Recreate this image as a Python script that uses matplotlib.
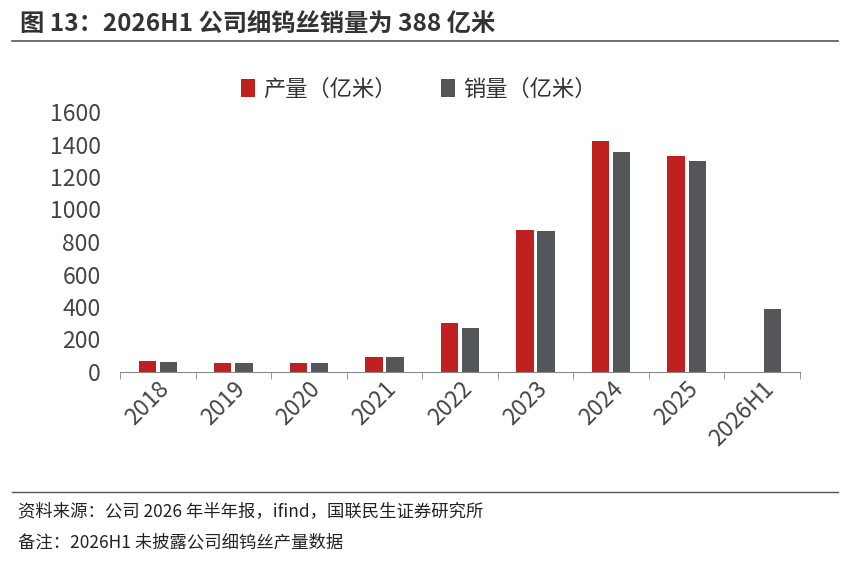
import matplotlib
matplotlib.use("Agg")
import matplotlib.pyplot as plt
import numpy as np

plt.rcParams['font.family'] = ['Noto Sans CJK SC', 'DejaVu Sans']

categories = ['2018', '2019', '2020', '2021', '2022', '2023', '2024', '2025', '2026H1']
production = [65, 55, 55, 95, 301, 872, 1421, 1329, np.nan]
sales = [63, 55, 55, 95, 271, 866, 1354, 1296, 388]
yticks = [0, 200, 400, 600, 800, 1000, 1200, 1400, 1600]

W, H = 852, 562
fig = plt.figure(figsize=(W/100, H/100), dpi=100)

fig.text(20/W, 1-24/H, '图 13：2026H1 公司细钨丝销量为 388 亿米', fontsize=17.5, fontweight='bold',
         color='#333333', va='center', ha='left')
fig.add_artist(plt.Line2D([12/W, 838/W], [1-41/H, 1-41/H], color='#555555', lw=1.2))
fig.add_artist(plt.Line2D([12/W, 838/W], [1-492/H, 1-492/H], color='#555555', lw=1.0))
fig.text(18/W, 1-511/H, '资料来源：公司 2026 年半年报，ifind，国联民生证券研究所', fontsize=12.5, color='#222222', va='center')
fig.text(18/W, 1-542/H, '备注：2026H1 未披露公司细钨丝产量数据', fontsize=12.5, color='#222222', va='center')

ax = fig.add_axes([120/W, 1-372/H, (800-120)/W, (372-112)/H])
x = np.arange(len(categories))
w = 0.23
ax.bar(x - 0.14, production, w, color='#C0201F', label='产量（亿米）')
ax.bar(x + 0.14, sales, w, color='#54575A', label='销量（亿米）')
ax.set_ylim(0, 1600)
ax.set_yticks(yticks)
ax.set_xlim(-0.5, len(categories) - 0.5)
ax.set_xticks(x)
ax.set_xticklabels(categories, rotation=45, fontsize=16.5, color='#444444')
ax.tick_params(axis='y', labelsize=16.5, colors='#444444', length=0, pad=14)
ax.tick_params(axis='x', length=0, pad=4)
for s in ['top', 'right', 'left']:
    ax.spines[s].set_visible(False)
ax.spines['bottom'].set_color('#888888')
ax.set_xticks(np.arange(len(categories) + 1) - 0.5, minor=True)
ax.tick_params(axis='x', which='minor', length=5, color='#888888', direction='out')
for lbl in ax.get_xticklabels():
    lbl.set_ha('right'); lbl.set_rotation_mode('anchor')
ax.legend(loc='upper center', bbox_to_anchor=(0.44, 1.21), ncol=2, frameon=False, fontsize=16,
          handlelength=0.6, handleheight=0.9, columnspacing=2.0, handletextpad=0.4, labelcolor='#333333')

fig.savefig('out.png', dpi=100)
